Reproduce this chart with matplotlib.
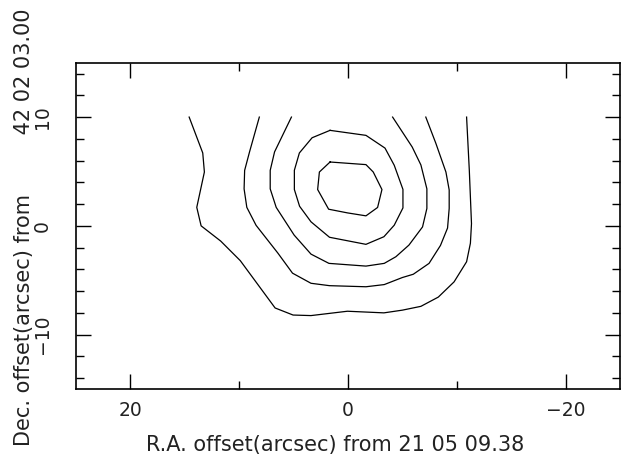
import matplotlib
matplotlib.use("Agg")
import matplotlib.pyplot as plt
from matplotlib.ticker import MultipleLocator, FixedLocator

# Contour levels (outer -> inner), vertices in arcsec offsets
c1_x = [14.6, 13.35, 13.2, 13.9, 13.5, 11.7, 9.9, 6.7, 5.05, 3.4, 0.05, -3.3, -5.0, -6.7, -8.3, -9.75, -10.9, -11.25, -11.35, -11.15, -10.9]
c1_y = [10.0, 6.7, 4.95, 1.7, 0.0, -1.4, -3.2, -7.55, -8.2, -8.25, -7.85, -8.0, -7.75, -7.4, -6.55, -5.15, -3.3, -1.6, 0.2, 5.1, 10.0]

c2_x = [8.15, 9.05, 9.5, 9.55, 9.3, 8.45, 6.45, 5.1, 3.4, 1.7, -1.65, -3.33, -5.0, -6.0, -7.45, -8.5, -9.15, -9.3, -9.3, -9.0, -8.07, -7.15]
c2_y = [10.0, 6.8, 5.1, 3.4, 1.7, 0.05, -2.5, -4.35, -5.28, -5.5, -5.6, -5.4, -4.75, -4.45, -3.45, -1.8, -0.2, 1.6, 3.3, 4.95, 7.6, 10.0]

c3_x = [5.2, 6.75, 7.15, 7.15, 6.6, 4.95, 3.4, 1.75, -1.65, -3.33, -4.4, -5.6, -6.85, -7.25, -7.25, -6.7, -5.9, -4.1]
c3_y = [10.0, 6.8, 5.1, 3.4, 1.7, -0.85, -2.6, -3.45, -3.7, -3.45, -2.84, -1.77, -0.1, 1.6, 3.4, 5.6, 7.25, 10.0]

c4_x = [1.65, -1.65, -3.4, -4.25, -5.05, -5.05, -4.25, -3.3, -1.65, 1.7, 3.4, 4.45, 4.93, 4.93, 4.47, 3.3, 1.65]
c4_y = [8.78, 8.32, 7.15, 5.57, 3.35, 1.65, 0.06, -1.0, -1.7, -1.05, 0.37, 1.8, 3.34, 5.11, 6.7, 8.1, 8.78]

c5_x = [1.65, -1.65, -2.32, -3.12, -2.72, -1.65, 0.04, 1.78, 2.79, 2.63, 1.65]
c5_y = [5.87, 5.63, 4.95, 3.34, 1.69, 0.92, 1.19, 1.53, 3.34, 4.95, 5.87]

contours = [(c1_x, c1_y), (c2_x, c2_y), (c3_x, c3_y), (c4_x, c4_y), (c5_x, c5_y)]

x_ticks = [20, 0, -20]
y_ticks = [10, 0, -10]
x_label = "R.A. offset(arcsec) from 21 05 09.38"
y_label = "Dec. offset(arcsec) from         42 02 03.00"

plt.rcParams['font.family'] = ['DejaVu Sans']

W, H = 621, 466
fig = plt.figure(figsize=(W / 100, H / 100), dpi=100)
ax = fig.add_axes([76 / W, 1 - 389 / H, (620 - 76) / W, (389 - 62.7) / H])

for xs, ys in contours:
    ax.plot(xs, ys, color='black', linewidth=0.9)

ax.set_xlim(25, -25)
ax.set_ylim(-15, 15)

ax.xaxis.set_major_locator(FixedLocator(x_ticks))
ax.xaxis.set_minor_locator(MultipleLocator(10))
ax.yaxis.set_major_locator(FixedLocator(y_ticks))
ax.yaxis.set_minor_locator(MultipleLocator(2))

ax.tick_params(which='both', direction='in', top=True, right=True, color='black', width=1.0)
ax.tick_params(which='major', length=10.5, labelsize=13.5, labelcolor='#222222')
ax.tick_params(axis='x', which='major', pad=9)
ax.tick_params(axis='y', which='major', pad=17.5, labelrotation=90)
ax.tick_params(which='minor', length=5.5)

ax.set_xticklabels(['20', '0', '\u221220'])
ax.set_yticklabels(['10', '0', '\u221210'], va='center')

for sp in ax.spines.values():
    sp.set_linewidth(1.2)
    sp.set_color('black')

fig.text(335.5 / W, 1 - 451 / H, x_label, fontsize=15, color='#222222',
         ha='center', va='baseline')
fig.text(30.5 / W, 1 - 227.5 / H, y_label, fontsize=15, color='#222222',
         rotation=90, rotation_mode='anchor', ha='center', va='baseline')

fig.savefig("out.png", dpi=100)
